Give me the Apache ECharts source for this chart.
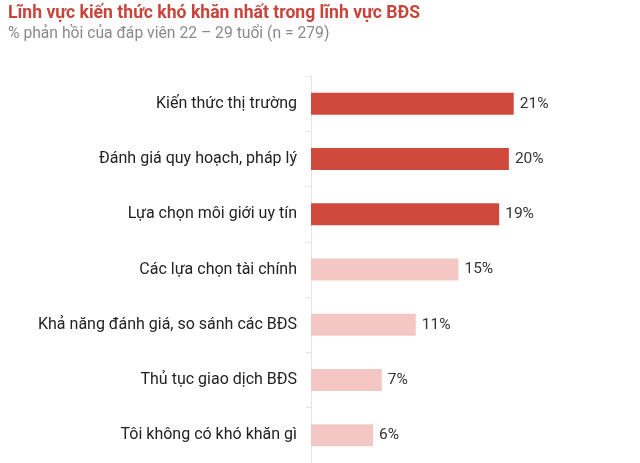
<!DOCTYPE html>
<html>
<head>
<meta charset="utf-8">
<script src="https://cdn.jsdelivr.net/npm/echarts@6/dist/echarts.min.js"></script>
<style>
  html, body { margin: 0; padding: 0; background: #fff; }
  #chart { width: 640px; height: 463px; }
</style>
</head>
<body>
<div id="chart"></div>
<script>
const categories = [
    'Kiến thức thị trường',
    'Đánh giá quy hoạch, pháp lý',
    'Lựa chọn môi giới uy tín',
    'Các lựa chọn tài chính',
    'Khả năng đánh giá, so sánh các BĐS',
    'Thủ tục giao dịch BĐS',
    'Tôi không có khó khăn gì'
];
const values = [20.9, 20.4, 19.4, 15.2, 10.8, 7.3, 6.4];
// top three highlighted in dark red
const highlighted = [true, true, true, false, false, false, false];

const chart = echarts.init(document.getElementById('chart'));

const option = {
    animation: false,
    textStyle: { fontFamily: 'Roboto' },
    title: {
        text: 'Lĩnh vực kiến thức khó khăn nhất trong lĩnh vực BĐS',
        subtext: '% phản hồi của đáp viên 22 – 29 tuổi (n = 279)',
        left: 3,
        top: 0,
        itemGap: 3,
        textStyle: { color: '#c8453b', fontSize: 17.6, fontWeight: 'bold', fontFamily: 'Roboto' },
        subtextStyle: { color: '#8a8a8a', fontSize: 15.7, fontFamily: 'Roboto' }
    },
    grid: { left: 311, right: 38, top: 76, bottom: 0 },
    xAxis: {
        type: 'value',
        min: 0,
        max: 30,
        show: false
    },
    yAxis: {
        type: 'category',
        inverse: true,
        data: categories,
        axisLine: { show: true, lineStyle: { color: '#e4e4e4', width: 1 } },
        axisTick: { show: true, length: 5, lineStyle: { color: '#e4e4e4' } },
        axisLabel: { margin: 14, color: '#222', fontSize: 16, fontFamily: 'Roboto' }
    },
    series: [{
        type: 'bar',
        barWidth: 22,
        data: values.map((v, i) => ({
            value: v,
            itemStyle: { color: highlighted[i] ? '#cf4a3c' : '#f5c7c4' }
        })),
        label: {
            show: true,
            position: 'right',
            distance: 6,
            color: '#333',
            fontSize: 15.5,
            fontFamily: 'Roboto',
            formatter: p => Math.round(p.value) + '%'
        }
    }]
};

chart.setOption(option);
</script>
</body>
</html>
